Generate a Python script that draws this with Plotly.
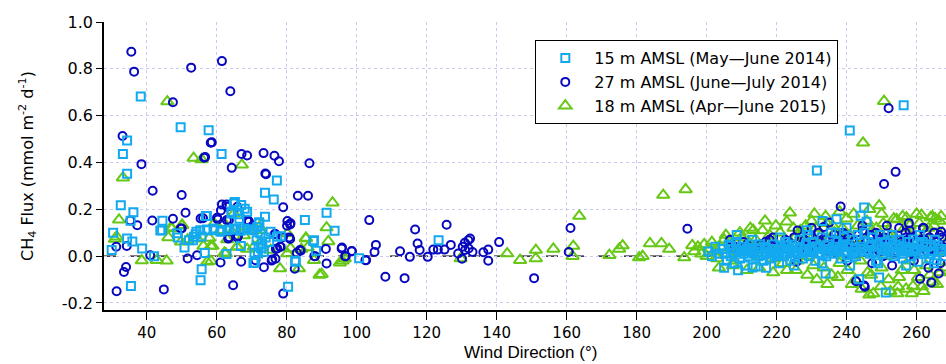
import plotly.graph_objects as go

# ---------------- data ----------------
# 15 m AMSL (May-June 2014) -- squares
sq_x = [38.3, 49.7, 57.7, 34.4, 33.2, 34.4, 61.4, 77.2, 73.8, 76.3, 32.6, 36.2, 35.4, 44.5, 43.9,
        30.4, 30.0, 34.4, 35.9, 38.7, 42.1, 48.7, 50.8, 35.5, 55.4, 55.7, 56.6, 57.2, 65.2, 67.0,
        68.0, 66.0, 64.2, 54.2, 55.3, 57.2, 59.1, 61.1, 63.6, 64.9, 66.8, 68.7, 70.6, 72.1, 73.8,
        72.5, 70.8, 70.9, 73.0, 73.5, 77.3, 85.2, 87.8, 80.4, 82.6, 62.8, 53.2, 55.7, 53.5, 52.1,
        56.9, 64.9, 64.3, 61.6, 66.9, 70.5, 71.8, 72.7, 72.2, 71.4, 78.3, 48.9, 44.4, 54.0, 57.3,
        59.2, 63.0, 65.4, 67.8, 69.7, 71.6, 75.4, 66.5, 68.7, 72.0, 74.0, 75.0,
        91.4, 93.7, 87.6, 88.4, 82.4, 100.7, 123.4,
        200.5, 201.5, 202.5, 203.5,
        204.5, 205.2, 205.8, 206.3, 206.9, 207.4, 207.9, 208.4, 208.6, 209.0, 209.5, 210.1, 210.6,
        211.0, 211.5, 212.0, 212.4, 212.9, 213.1, 213.6, 214.0, 214.4, 214.9, 215.3, 215.8, 216.2,
        216.7, 217.1, 217.6, 218.0, 218.5, 218.9, 219.4, 219.8, 220.3, 220.7, 221.2, 221.6, 222.1,
        222.5, 223.0, 223.4, 223.9, 224.3, 224.8, 225.2, 225.7, 226.1, 226.6, 227.0, 227.5, 227.9,
        228.4, 228.6, 229.3, 229.7, 230.2, 230.6, 231.1, 231.5, 231.8, 232.4, 232.9, 233.1, 233.5,
        234.0, 234.2, 234.7, 235.1, 235.6, 236.0, 236.5, 237.1, 237.4, 237.8, 238.3, 238.7, 239.2,
        239.6, 240.0, 240.5, 240.9, 241.4, 241.8, 242.3, 242.7, 243.2, 243.6, 244.0, 244.5, 245.0,
        245.3, 245.7, 246.2, 246.6, 247.1, 247.5, 248.0, 248.4, 248.9, 249.3, 249.5, 250.0, 250.5,
        251.0, 251.2, 251.8, 252.4, 252.9, 253.4, 253.9, 254.5, 255.0, 255.6, 256.1, 256.3, 256.8,
        257.3, 257.9, 258.4, 259.0, 259.5, 260.1, 260.5, 261.1, 261.7, 262.2, 262.7, 263.0, 263.6,
        264.1, 264.7, 265.2, 265.7, 266.3, 267.1, 267.6,
        210.0, 213.5, 217.0, 220.0, 224.0, 228.0, 232.0, 236.0, 240.0, 244.0, 248.0, 252.0, 256.0,
        260.0, 264.0, 208.0, 212.0, 216.0, 222.0, 226.0, 230.0, 234.0, 238.0, 242.0, 246.0, 250.0,
        254.0, 258.0, 262.0, 266.0,
        205.0, 209.0, 213.0, 217.0, 221.0, 225.0, 229.0, 233.0, 237.0, 241.0, 245.0, 249.0, 253.0,
        257.0, 261.0, 265.0, 207.0, 211.0, 215.0, 219.0, 223.0, 227.0, 231.0, 235.0, 239.0, 243.0,
        247.0, 251.0, 255.0, 259.0, 263.0, 267.0]
sq_y = [0.682, 0.550, 0.538, 0.494, 0.436, 0.352, 0.436, 0.323, 0.271, 0.242, 0.217, 0.188, 0.151, 0.151, 0.110,
        0.100, 0.026, 0.075, 0.063, 0.033, 0.000, 0.098, 0.037, -0.127, -0.103, -0.056, 0.013, 0.171, 0.231, 0.218,
        0.202, 0.179, 0.182, 0.104, 0.111, 0.114, 0.111, 0.104, 0.114, 0.118, 0.108, 0.114, 0.111, 0.145, 0.168,
        0.097, 0.014, -0.027, 0.054, 0.019, 0.083, 0.154, 0.068, -0.131, -0.024, 0.009, 0.068, 0.084, 0.083, 0.068,
        0.171, 0.225, 0.190, 0.111, 0.043, -0.029, 0.011, 0.034, 0.140, 0.068, 0.085, 0.080, 0.111, 0.094, 0.111,
        0.118, 0.111, 0.114, 0.118, 0.114, 0.123, 0.104, 0.160, 0.190, 0.040, 0.080, 0.060,
        0.185, 0.108, 0.065, 0.023, -0.020, -0.009, 0.068,
        0.020, 0.000, 0.040, 0.010,
        0.030, 0.010, -0.020, 0.050, 0.000, 0.030, -0.030, 0.060, 0.090, 0.020, -0.010, 0.040, 0.010,
        -0.040, 0.030, 0.000, 0.050, 0.020, -0.048, 0.010, -0.043, 0.030, 0.000, 0.050, 0.020, -0.020,
        0.040, 0.010, 0.030, -0.010, 0.020, 0.050, 0.000, 0.030, 0.010, -0.030, 0.040, 0.020, 0.000,
        0.060, 0.010, 0.030, -0.020, 0.050, 0.020, 0.000, 0.040, 0.010, 0.070, 0.030, -0.010, 0.020,
        0.050, 0.111, 0.000, 0.030, 0.060, 0.020, -0.020, 0.366, 0.040, 0.010, 0.080, 0.150, 0.030,
        -0.074, 0.000, 0.050, 0.020, 0.100, 0.040, 0.010, 0.158, 0.060, 0.020, -0.010, 0.040, 0.080,
        0.020, 0.121, 0.050, 0.537, 0.010, 0.070, 0.030, 0.000, 0.090, -0.099, 0.172, 0.040, 0.208,
        0.020, 0.147, 0.060, 0.010, 0.040, 0.080, 0.020, -0.020, 0.050, -0.091, 0.090, 0.030, 0.010,
        0.060, -0.155, 0.020, 0.068, 0.040, 0.000, 0.050, 0.020, 0.070, 0.030, -0.010, 0.644, 0.040,
        0.020, 0.060, 0.000, 0.071, 0.030, 0.050, -0.024, 0.020, 0.060, 0.010, 0.040, 0.040, -0.010,
        0.050, 0.020, 0.070, -0.017, 0.030, 0.030, 0.000,
        0.025, 0.015, 0.035, 0.005, 0.025, 0.015, 0.035, 0.025, 0.005, 0.030, 0.015, 0.035, 0.010,
        0.025, 0.010, 0.015, 0.025, 0.005, 0.030, 0.015, 0.025, 0.010, 0.030, 0.015, 0.025, 0.040,
        0.010, 0.030, 0.020, 0.045,
        -0.050, -0.060, 0.070, -0.050, 0.080, -0.040, 0.090, -0.030, 0.100, -0.040, 0.100, -0.030, 0.090,
        -0.040, 0.090, -0.030, 0.045, 0.020, 0.035, 0.015, 0.045, 0.020, 0.040, 0.030, 0.050, 0.020,
        0.050, 0.025, 0.045, 0.020, 0.050, 0.020]

# 27 m AMSL (June-July 2014) -- circles
ci_x = [35.6, 36.4, 52.7, 61.5, 63.9, 47.5, 33.1, 38.5, 58.6, 56.7, 64.3, 67.1, 68.7, 73.4, 76.5,
        77.8, 74.1, 86.5, 41.7, 50.0, 83.2, 86.1, 79.0, 51.1, 61.5, 62.8, 60.1, 56.1, 47.5, 41.6,
        37.3, 35.3, 50.0, 80.2, 81.0, 69.1, 63.6, 66.1, 76.7, 78.9, 81.0, 31.3, 34.3, 33.5, 34.1,
        31.4, 44.9, 41.0, 51.7, 54.4, 61.1, 64.7, 67.0, 73.5, 75.7, 76.8, 76.9, 78.1, 79.0, 82.3,
        84.0, 88.1, 61.2, 62.9, 63.0, 65.9, 68.7, 63.5, 60.3, 55.4, 49.7, 63.3, 65.9, 69.2, 71.1,
        75.9, 77.3, 78.3, 76.6, 80.7, 80.1, 82.9, 73.9, 58.3, 56.4,
        83.8, 91.2, 95.7, 98.6, 91.4, 102.7, 96.9, 87.9, 81.1, 95.8, 96.7, 98.6, 102.5,
        103.6, 105.5, 105.1, 108.2, 113.7, 112.4, 115.2, 116.7, 117.4, 118.0, 120.3, 121.9, 123.2,
        125.7, 126.9, 125.1, 129.0, 130.1, 130.3, 130.9, 131.9, 132.4, 133.1, 131.0, 132.0, 136.2,
        137.6, 137.6, 140.7, 150.7, 161.1, 160.6, 194.5,
        206.7, 208.0, 210.5, 213.0, 215.5, 218.0, 219.0, 221.0, 223.5, 225.0, 226.5, 228.0, 229.5,
        230.5, 232.0, 233.0, 234.0, 235.0, 235.8, 236.5, 237.2, 238.0, 238.3, 239.0, 239.8, 240.5,
        241.2, 242.0, 242.7, 243.3, 244.0, 244.6, 245.0, 245.5, 246.2, 247.0, 247.7, 248.4, 249.0,
        249.7, 250.4, 250.7, 251.2, 252.0, 252.5, 253.2, 254.0, 254.5, 255.2, 256.0, 256.8, 257.5,
        258.2, 258.9, 259.6, 260.3, 261.0, 261.6, 262.3, 263.0, 263.7, 264.2, 264.8, 265.5, 266.3,
        266.6, 267.0, 267.5, 226.0, 230.0, 233.5, 225.7, 245.2, 255.0, 258.0, 262.0, 265.0,
        231.0, 232.5, 234.5, 236.2, 237.7, 239.4, 241.0, 242.4, 243.8, 245.2, 246.8, 248.0, 249.4,
        250.8, 252.2, 253.6, 255.6, 257.0, 258.6, 260.0, 261.3, 262.8, 264.4, 265.9, 267.3, 240.2,
        247.3, 253.0, 259.2, 263.4, 266.8, 244.5, 251.5, 257.8, 261.8, 220.0, 222.5, 224.0, 227.3,
        229.0, 214.0, 216.8, 211.5, 209.0]
ci_y = [0.873, 0.788, 0.805, 0.833, 0.704, 0.657, 0.513, 0.393, 0.486, 0.423, 0.377, 0.436, 0.430, 0.440, 0.429,
        0.405, 0.350, 0.397, 0.279, 0.261, 0.258, 0.258, 0.209, 0.185, 0.221, 0.221, 0.164, 0.162, 0.160, 0.152,
        0.132, 0.152, 0.118, 0.150, 0.135, 0.150, 0.081, 0.087, 0.095, 0.081, 0.073, 0.040, 0.043, -0.068, -0.046,
        -0.150, -0.142, 0.004, -0.010, 0.004, -0.027, -0.124, -0.024, -0.047, -0.019, -0.011, 0.031, 0.040, -0.160, -0.054,
        0.023, 0.000, 0.195, 0.154, 0.211, 0.211, 0.154, 0.154, 0.157, 0.161, 0.118, 0.075, 0.080, 0.147, -0.017,
        -0.014, 0.033, 0.040, 0.094, 0.080, 0.130, 0.014, 0.353, 0.484, 0.420,
        0.026, 0.031, 0.033, 0.022, -0.031, -0.017, 0.000, 0.000, 0.140, 0.037, 0.000, 0.021, -0.017,
        0.154, 0.048, 0.018, -0.088, -0.094, 0.021, -0.003, 0.114, 0.054, 0.026, -0.003, 0.028, 0.028,
        0.134, 0.048, 0.028, 0.011, -0.011, 0.040, 0.057, 0.068, 0.075, 0.018, 0.026, 0.033, 0.017,
        0.028, -0.020, 0.060, -0.094, 0.120, 0.018, 0.117,
        0.070, 0.030, 0.060, 0.020, 0.050, 0.070, 0.080, 0.030, 0.060, 0.080, 0.040, 0.070, 0.090,
        0.050, 0.100, 0.030, 0.070, 0.144, 0.050, 0.090, 0.020, 0.060, 0.212, 0.100, 0.040, 0.080,
        0.030, 0.060, -0.107, 0.090, 0.040, 0.110, -0.125, 0.060, 0.020, 0.080, 0.050, 0.100, 0.030,
        0.070, 0.000, 0.308, 0.060, 0.632, 0.040, 0.090, 0.360, 0.020, 0.070, 0.050, 0.100, 0.030,
        0.080, 0.010, 0.060, 0.090, -0.097, 0.040, 0.070, 0.020, 0.080, -0.113, 0.050, 0.030, -0.074,
        0.090, 0.104, 0.040, 0.110, 0.120, 0.125, -0.024, -0.131, 0.120, 0.110, 0.120, 0.100,
        0.030, 0.060, 0.020, 0.070, 0.040, 0.090, 0.050, 0.010, 0.070, 0.030, 0.090, 0.060, 0.020,
        0.080, 0.050, 0.010, 0.060, 0.080, 0.040, 0.020, 0.070, 0.050, 0.030, 0.060, 0.080, -0.020,
        -0.030, -0.040, -0.020, -0.050, -0.030, 0.130, 0.130, 0.140, 0.120, 0.040, 0.070, 0.030, 0.050,
        0.020, 0.040, 0.060, 0.050, 0.040]

# 18 m AMSL (Apr-June 2015) -- triangles
tr_x = [45.9, 53.4, 55.7, 67.2, 33.2, 32.1, 30.9, 31.4, 38.6, 42.9, 45.7, 47.2, 46.2, 50.0, 49.8,
        51.7, 54.5, 56.2, 57.9, 58.8, 58.4, 61.1, 63.0, 62.2, 64.9, 65.8, 67.8, 69.2, 70.6, 72.5,
        72.5, 75.4, 78.1, 80.2, 80.2, 81.1, 83.5, 85.5, 86.0, 87.8, 89.4, 46.9, 50.2, 58.3, 57.3,
        62.6, 65.9, 68.7, 84.2, 64.4, 68.2, 72.2, 62.1, 59.3,
        93.1, 91.4, 91.9, 85.5, 90.0, 95.2, 96.6, 96.0, 129.7,
        143.0, 146.7, 151.2, 151.2, 156.2, 163.6, 161.9, 161.7, 172.2, 175.0, 176.0, 180.7,
        181.7, 183.8, 187.1, 189.3, 187.6, 194.0, 193.6, 195.9,
        196.5, 197.5, 198.5, 199.3, 200.0, 200.8, 201.5, 202.3, 203.0, 204.0, 205.0, 206.0, 207.0,
        208.0, 209.0, 210.0, 211.0, 212.0, 213.3, 214.0, 214.8, 215.5, 216.7, 217.3, 218.0, 218.8,
        219.5, 220.3, 221.0, 221.8, 222.9, 223.8, 224.5, 225.3, 226.0, 226.8, 227.5, 228.3, 229.0,
        229.8, 230.5, 231.2, 232.0, 232.8, 233.5, 234.3, 235.0, 235.7, 236.5, 237.2, 238.0, 238.8,
        239.5, 240.3, 241.0, 241.8, 242.5, 243.2, 244.0, 244.7, 245.3, 246.0, 246.5, 247.2, 247.6,
        248.3, 249.3, 250.0, 250.5, 250.7, 251.3, 252.0, 252.8, 253.5, 254.3, 254.7, 255.2, 255.8,
        256.5, 257.1, 257.8, 258.5, 259.0, 259.7, 260.4, 261.4, 262.0, 262.7, 263.4, 264.0, 264.6,
        265.3, 266.0, 266.7, 267.4, 268.0,
        225.5, 227.0, 228.8, 230.0, 231.5, 233.0, 234.5, 236.0, 237.5, 239.0, 240.0, 241.5, 243.0,
        244.3, 245.8, 247.0, 248.5, 249.8, 251.5, 252.5, 253.8, 255.0, 256.0, 257.0, 258.0, 259.3,
        260.8, 261.5, 262.5, 263.8, 265.0, 265.8, 266.5, 267.8, 242.0, 238.0, 234.0, 246.5, 230.8,
        250.0, 260.0, 264.5, 267.0, 254.5, 258.6, 262.0,
        203.5, 207.5, 211.5, 215.0, 219.0, 223.0, 205.5, 209.5, 212.5, 216.0, 219.8, 224.8]
tr_y = [0.660, 0.419, 0.413, 0.390, 0.335, 0.155, 0.073, 0.083, -0.019, -0.017, -0.020, 0.118, 0.080, 0.131, 0.061,
        0.071, 0.074, 0.043, 0.077, 0.043, -0.021, 0.111, 0.071, 0.014, 0.182, 0.040, 0.088, 0.111, 0.040, 0.061,
        0.111, 0.026, -0.053, 0.097, 0.011, 0.033, -0.053, 0.078, 0.037, -0.017, -0.080, 0.122, 0.132, 0.043, -0.024,
        0.011, 0.040, 0.030, 0.030, 0.104, 0.111, 0.125, 0.142, 0.140,
        0.228, 0.122, 0.063, 0.075, -0.077, -0.028, -0.010, -0.020, -0.010,
        0.011, -0.017, 0.026, -0.010, 0.031, 0.171, 0.043, 0.000, 0.004, 0.031, 0.045, -0.006,
        0.000, 0.054, 0.054, 0.030, 0.261, 0.285, -0.006, 0.046,
        0.020, 0.040, 0.010, 0.050, 0.000, 0.030, 0.060, 0.020, -0.010, 0.040, 0.070, 0.010, 0.050,
        -0.020, 0.030, 0.080, 0.020, 0.060, 0.111, 0.070, 0.000, 0.040, 0.151, 0.050, 0.090, -0.010,
        0.060, 0.030, 0.100, -0.030, 0.147, 0.185, 0.050, 0.080, -0.020, 0.110, 0.040, 0.130, 0.000,
        0.070, -0.040, 0.120, 0.030, 0.090, -0.050, 0.140, 0.020, -0.080, 0.100, 0.050, -0.030, 0.120,
        0.010, -0.060, 0.090, 0.040, -0.100, 0.130, -0.020, 0.484, 0.070, -0.070, -0.165, 0.110, -0.160,
        0.030, 0.216, -0.050, 0.140, 0.662, 0.000, -0.100, 0.090, 0.160, 0.157, -0.131, 0.050, -0.060,
        0.120, 0.164, -0.020, 0.080, -0.128, 0.030, -0.090, 0.175, 0.060, -0.040, 0.120, 0.165, -0.110,
        0.160, 0.020, -0.070, 0.100, 0.050,
        -0.060, 0.090, -0.080, 0.150, -0.100, 0.060, -0.120, 0.130, -0.090, 0.070, 0.160, -0.120, 0.050,
        -0.140, 0.150, -0.080, 0.120, -0.130, 0.100, -0.150, 0.060, -0.090, 0.170, -0.140, 0.130, -0.060,
        0.140, -0.130, 0.100, -0.080, 0.130, -0.120, 0.150, -0.050, 0.180, 0.190, 0.170, 0.200, 0.180,
        0.180, 0.180, 0.170, 0.170, -0.160, -0.160, -0.150,
        -0.050, -0.040, -0.060, -0.050, -0.070, -0.060, 0.090, 0.100, 0.120, 0.110, 0.130, 0.120]

series_names = ["15 m AMSL (May\u2014June 2014)",
                "27 m AMSL (June\u2014July 2014)",
                "18 m AMSL (Apr\u2014June 2015)"]

x_ticks = [40, 60, 80, 100, 120, 140, 160, 180, 200, 220, 240, 260]
y_ticks = [-0.2, 0.0, 0.2, 0.4, 0.6, 0.8, 1.0]
y_tick_text = ["-0.2", "0.0", "0.2", "0.4", "0.6", "0.8", "1.0"]

# ---------------- figure ----------------
SQ_COL = "#12A9F0"
CI_COL = "#0808C0"
TR_COL = "#66C814"

fig = go.Figure()
fig.add_trace(go.Scatter(x=tr_x, y=tr_y, mode="markers", name=series_names[2],
                         marker=dict(symbol="triangle-up-open", size=11, color=TR_COL,
                                     line=dict(width=2, color=TR_COL))))
fig.add_trace(go.Scatter(x=ci_x, y=ci_y, mode="markers", name=series_names[1],
                         marker=dict(symbol="circle-open", size=8, color=CI_COL,
                                     line=dict(width=2, color=CI_COL))))
fig.add_trace(go.Scatter(x=sq_x, y=sq_y, mode="markers", name=series_names[0],
                         marker=dict(symbol="square-open", size=8, color=SQ_COL,
                                     line=dict(width=2, color=SQ_COL))))

# dashed zero line
fig.add_shape(type="line", xref="x", yref="y", x0=27.8, x1=268.4, y0=0, y1=0,
              line=dict(color="black", width=1.3, dash="12px,14px"), layer="below")

GRID = "#C9C9F2"
fig.update_layout(
    width=946, height=364,
    margin=dict(l=104, r=0, t=22, b=54, pad=0),
    paper_bgcolor="white", plot_bgcolor="white",
    font=dict(family="DejaVu Sans", size=15, color="black"),
    showlegend=True,
    legend=dict(x=0.512, y=0.9375, xanchor="left", yanchor="top",
                bgcolor="white", bordercolor="black", borderwidth=1.2,
                traceorder="reversed", itemwidth=48,
                font=dict(family="DejaVu Sans", size=16, color="black"),
                tracegroupgap=0),
    xaxis=dict(range=[27.8, 268.4], tickvals=x_ticks, ticks="outside", ticklen=8,
               tickwidth=1, tickcolor="black", showline=True, linecolor="black", linewidth=1.5,
               showgrid=True, gridcolor=GRID, griddash="dot", gridwidth=1, zeroline=False,
               tickfont=dict(family="DejaVu Sans", size=15)),
    yaxis=dict(range=[-0.23, 1.0], tickvals=y_ticks, ticktext=y_tick_text, ticks="outside",
               ticklen=6, tickwidth=1, tickcolor="black", showline=True, linecolor="black",
               linewidth=1.5, showgrid=True, gridcolor=GRID, griddash="dot", gridwidth=1,
               zeroline=False, tickfont=dict(family="DejaVu Sans", size=16)),
)

fig.add_annotation(text="CH<sub>4</sub> Flux (mmol m<sup>-2</sup> d<sup>-1</sup>)",
                   xref="paper", yref="paper", x=-(104 - 27) / 842, y=0.5,
                   textangle=-90, showarrow=False, xanchor="center", yanchor="middle",
                   font=dict(family="DejaVu Sans", size=16, color="black"))
fig.add_annotation(text="Wind Direction (\u00b0)",
                   xref="paper", yref="paper", x=(530 - 104) / 842, y=-(352 - 310) / 288,
                   showarrow=False, xanchor="center", yanchor="middle",
                   font=dict(family="Liberation Sans", size=17, color="black"))

fig.write_html("out.html")
